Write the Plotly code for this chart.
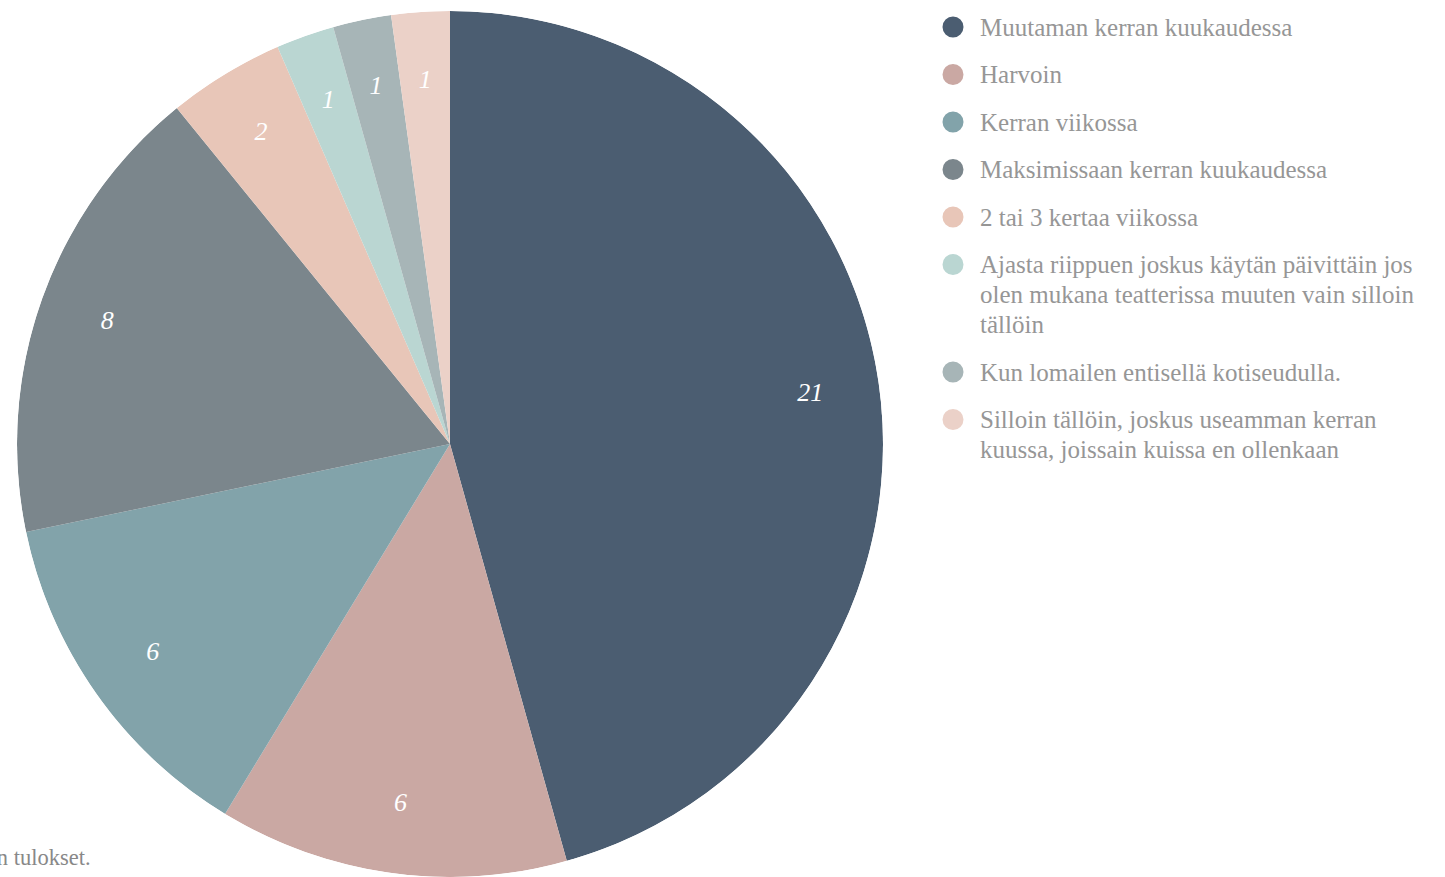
import plotly.graph_objects as go

# Survey answers: how often the service is used
categories = [
    "Muutaman kerran kuukaudessa",
    "Harvoin",
    "Kerran viikossa",
    "Maksimissaan kerran kuukaudessa",
    "2 tai 3 kertaa viikossa",
    "Ajasta riippuen joskus käytän päivittäin jos<br>olen mukana teatterissa muuten vain silloin<br>tällöin",
    "Kun lomailen entisellä kotiseudulla.",
    "Silloin tällöin, joskus useamman kerran<br>kuussa, joissain kuissa en ollenkaan",
]
counts = [21, 6, 6, 8, 2, 1, 1, 1]
colors = ["#4b5d71", "#caa8a3", "#82a3aa", "#7b868c",
          "#e8c6b8", "#bad6d2", "#a7b5b7", "#ebd1c8"]

W, H = 1445, 877
SERIF = "Liberation Serif, Times New Roman, serif"
PIE_DOMAIN = dict(x=[17 / W, 883 / W], y=[0, 866 / H])
LABEL_RADIUS = 0.84


def py(px):
    """Pixel row (from top) to paper y."""
    return 1 - px / H


# Slice geometry (degrees, clockwise from 12 o'clock) derived from the counts
total = sum(counts)
widths = [360 * v / total for v in counts]
mids = []
running = 0
for v in counts:
    mids.append(360 * (running + v / 2) / total)
    running += v

fig = go.Figure()

# Wedges of the pie on a polar subplot
fig.add_trace(go.Barpolar(
    r=[1] * len(counts),
    theta=mids,
    width=widths,
    marker=dict(color=colors, line=dict(width=0)),
    customdata=counts,
    hovertext=[c.replace("<br>", " ") for c in categories],
    hovertemplate="%{hovertext}: %{customdata}<extra></extra>",
    showlegend=False,
))

# Value labels near the rim of every wedge
fig.add_trace(go.Scatterpolar(
    r=[LABEL_RADIUS] * len(counts),
    theta=mids,
    mode="text",
    text=[str(v) for v in counts],
    textfont=dict(family=SERIF, size=26, color="white", style="italic"),
    hoverinfo="skip",
    showlegend=False,
))

# Legend drawn as round swatches plus text lines
shapes = []
annotations = []
LINE_H = 30
ENTRY_GAP = 17.5
y = 27
for name, col in zip(categories, colors):
    lines = name.split("<br>")
    shapes.append(dict(
        type="circle", xref="paper", yref="paper",
        xsizemode="pixel", ysizemode="pixel",
        xanchor=953 / W, yanchor=py(y),
        x0=-10.5, x1=10.5, y0=-10.5, y1=10.5,
        fillcolor=col, line=dict(width=0),
    ))
    for i, line in enumerate(lines):
        annotations.append(dict(
            text=line, xref="paper", yref="paper",
            x=978 / W, y=py(y + i * LINE_H),
            xanchor="left", yanchor="middle", showarrow=False,
            font=dict(family=SERIF, size=25, color="#969696"),
        ))
    y += len(lines) * LINE_H + ENTRY_GAP

# Source note in the lower-left corner
annotations.append(dict(
    text="Lähde: kyselyn tulokset.",
    xref="paper", yref="paper",
    x=93 / W, y=py(857),
    xanchor="right", yanchor="middle",
    showarrow=False,
    font=dict(family=SERIF, size=22.5, color="#888888"),
))

fig.update_layout(
    width=W, height=H,
    margin=dict(l=0, r=0, t=0, b=0),
    paper_bgcolor="white",
    plot_bgcolor="white",
    showlegend=False,
    polar=dict(
        domain=PIE_DOMAIN,
        bgcolor="rgba(0,0,0,0)",
        bargap=0,
        radialaxis=dict(range=[0, 1], visible=False, showgrid=False),
        angularaxis=dict(rotation=90, direction="clockwise", visible=False,
                         showgrid=False),
    ),
    shapes=shapes,
    annotations=annotations,
)

fig.write_html("out.html")
